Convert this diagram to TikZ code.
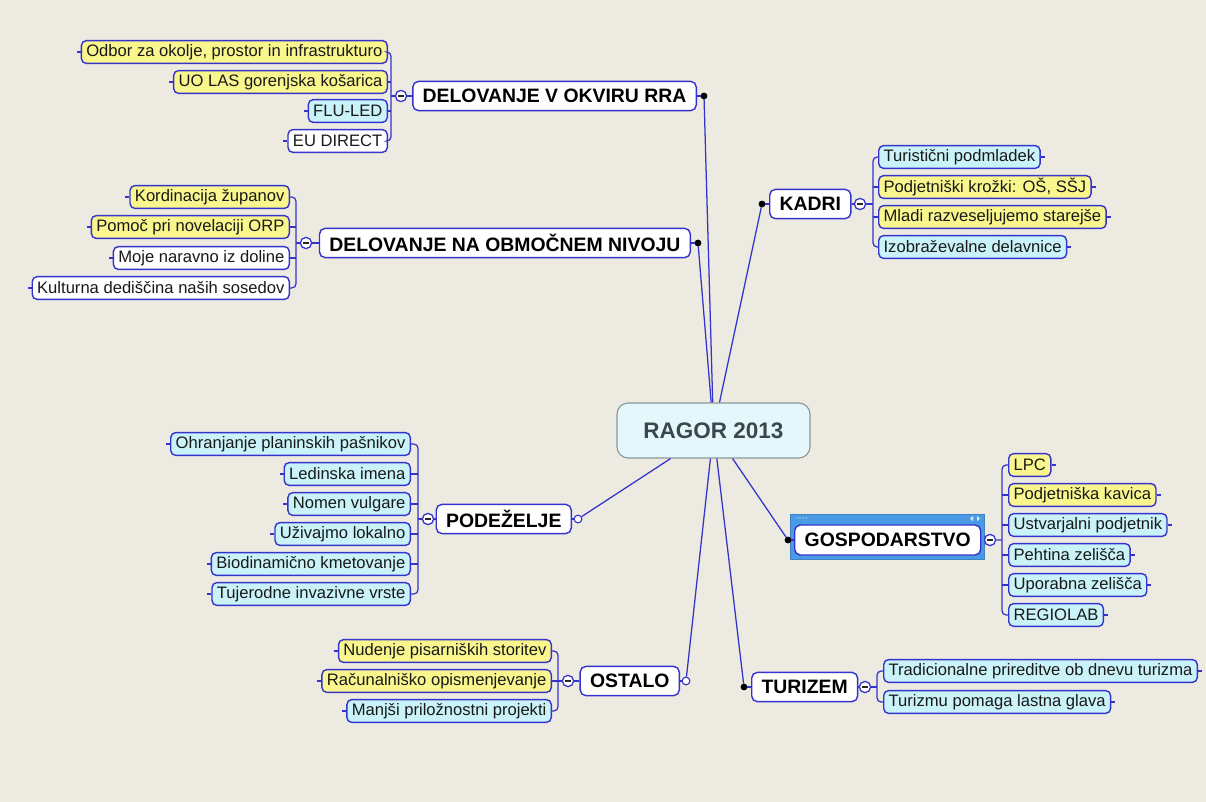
\documentclass[tikz,border=0pt]{standalone}
\usepackage{fontspec}
\setmainfont{Liberation Sans}
\definecolor{bgc}{HTML}{EDEAE2}
\definecolor{lnblue}{HTML}{3434CC}
\definecolor{yel}{HTML}{FAF68E}
\definecolor{cya}{HTML}{C9F3F9}
\definecolor{ragfill}{HTML}{E4F8FB}
\definecolor{raggray}{HTML}{8C9696}
\definecolor{ragtext}{HTML}{3A474C}
\definecolor{selblue}{HTML}{4A9AE6}
\tikzset{
 leaf/.style={draw=lnblue, line width=1pt, rounded corners=3.5pt, minimum height=0.57cm, inner xsep=3.5pt, inner ysep=1pt, font=\fontsize{11.8}{13}\selectfont, text=black!90},
 yl/.style={leaf, fill=yel},
 cy/.style={leaf, fill=cya},
 wh/.style={leaf, fill=white},
 branch/.style={draw=lnblue, line width=1pt, rounded corners=4pt, fill=white, minimum height=0.73cm, inner xsep=7pt, font=\bfseries\fontsize{13.8}{16}\selectfont},
 fdot/.style={circle, fill=black, draw=black, inner sep=0pt, minimum size=4.4pt},
 odot/.style={circle, fill=white, draw=lnblue, line width=0.8pt, inner sep=0pt, minimum size=5.5pt},
 coll/.style={circle, fill=white, draw=lnblue, line width=0.9pt, inner sep=0pt, minimum size=8pt,
   path picture={\draw[black!85, line width=0.9pt] ([xshift=2pt]path picture bounding box.center) -- ([xshift=-2pt]path picture bounding box.center);}},
 conn/.style={draw=lnblue, line width=0.9pt},
}
\begin{document}
\begin{tikzpicture}[x=0.025cm, y=-0.025cm]
\useasboundingbox (0,0) rectangle (1206,802);
\fill[bgc] (0,0) rectangle (1206,802);

% central
\node[draw=raggray, fill=ragfill, line width=0.8pt, rounded corners=8pt, minimum width=4.825cm, minimum height=1.375cm, font=\bfseries\fontsize{16}{19}\selectfont, text=ragtext] (ragor) at (713.5,430.5) {RAGOR 2013};

% ---------- DELOVANJE V OKVIRU RRA
\node[yl, anchor=east] (a1) at (388,52) {Odbor za okolje, prostor in infrastrukturo};
\node[yl, anchor=east] (a2) at (388,82) {UO LAS gorenjska košarica};
\node[cy, anchor=east] (a3) at (388,111) {FLU-LED};
\node[wh, anchor=east] (a4) at (388,141) {EU DIRECT};
\node[coll] (ca) at (401,96) {};
\coordinate (ba) at (391,96);
\node[branch, anchor=east] (rra) at (697,96) {DELOVANJE V OKVIRU RRA};
\node[fdot] (da) at (704,96) {};
\draw[conn, rounded corners=3pt] (a1.east) -| (ba) |- (a4.east);
\draw[conn] (a2.east) -- (a2.east -| ba);
\draw[conn] (a3.east) -- (a3.east -| ba);
\draw[conn] (ba) -- (ca) -- (rra) ;
\draw[conn] (rra.east) -- (da);
\foreach \n in {a1,a2,a3,a4} \draw[conn] (\n.west) -- ++(-4,0);

% ---------- DELOVANJE NA OBMOCNEM NIVOJU
\node[yl, anchor=east] (b1) at (290,197) {Kordinacija županov};
\node[yl, anchor=east] (b2) at (290,227) {Pomoč pri novelaciji ORP};
\node[wh, anchor=east] (b3) at (290,258) {Moje naravno iz doline};
\node[wh, anchor=east] (b4) at (290,288) {Kulturna dediščina naših sosedov};
\node[coll] (cb) at (306,243) {};
\coordinate (bb) at (296,243);
\node[branch, anchor=east] (obm) at (691,243) {DELOVANJE NA OBMOČNEM NIVOJU};
\node[fdot] (db) at (698,243) {};
\draw[conn, rounded corners=3pt] (b1.east) -| (bb) |- (b4.east);
\draw[conn] (b2.east) -- (b2.east -| bb);
\draw[conn] (b3.east) -- (b3.east -| bb);
\draw[conn] (bb) -- (cb) -- (obm);
\draw[conn] (obm.east) -- (db);
\foreach \n in {b1,b2,b3,b4} \draw[conn] (\n.west) -- ++(-4,0);

% ---------- KADRI
\node[branch, anchor=west] (kadri) at (769,204) {KADRI};
\node[fdot] (dk) at (762,204) {};
\node[coll] (ck) at (860,204) {};
\coordinate (bk) at (873,204);
\node[cy, anchor=west] (k1) at (878,157) {Turistični podmladek};
\node[yl, anchor=west] (k2) at (878,187) {Podjetniški krožki: OŠ, SŠJ};
\node[yl, anchor=west] (k3) at (878,217) {Mladi razveseljujemo starejše};
\node[cy, anchor=west] (k4) at (878,247) {Izobraževalne delavnice};
\draw[conn, rounded corners=3pt] (k1.west) -| (bk) |- (k4.west);
\draw[conn] (k2.west) -- (k2.west -| bk);
\draw[conn] (k3.west) -- (k3.west -| bk);
\draw[conn] (kadri) -- (ck) -- (bk);
\draw[conn] (dk) -- (kadri.west);
\foreach \n in {k1,k2,k3,k4} \draw[conn] (\n.east) -- ++(4,0);

% ---------- GOSPODARSTVO
\node[fill=selblue, draw=selblue!85!black, line width=0.4pt, minimum width=4.85cm, minimum height=1.125cm, inner sep=0pt] (gframe) at (887,536.5) {};
\foreach \xx in {797,800,803,806} \fill[white] (\xx,518) circle (0.5pt);
\fill[white!80!selblue] (973,516) -- (973,521) -- (970,518.5) -- cycle;
\fill[white!80!selblue] (977,516) -- (977,521) -- (980,518.5) -- cycle;
\node[branch, anchor=west, minimum width=4.65cm, minimum height=0.75cm] (gosp) at (794,540) {GOSPODARSTVO};
\node[fdot] (dg) at (788,540) {};
\node[coll] (cg) at (990,540) {};
\coordinate (bgo) at (1002,540);
\node[yl, anchor=west] (g1) at (1008,465) {LPC};
\node[yl, anchor=west] (g2) at (1008,495) {Podjetniška kavica};
\node[cy, anchor=west] (g3) at (1008,525) {Ustvarjalni podjetnik};
\node[cy, anchor=west] (g4) at (1008,555) {Pehtina zelišča};
\node[cy, anchor=west] (g5) at (1008,585) {Uporabna zelišča};
\node[cy, anchor=west] (g6) at (1008,615) {REGIOLAB};
\draw[conn, rounded corners=3pt] (g1.west) -| (bgo) |- (g6.west);
\foreach \n in {g2,g3,g4,g5} \draw[conn] (\n.west) -- (\n.west -| bgo);
\draw[conn] (gframe.east) -- (cg) -- (bgo);
\draw[conn] (dg) -- (gosp.west);
\foreach \n in {g1,g2,g3,g4,g5,g6} \draw[conn] (\n.east) -- ++(4,0);

% ---------- PODEZELJE
\node[cy, anchor=east] (p1) at (411,444) {Ohranjanje planinskih pašnikov};
\node[cy, anchor=east] (p2) at (411,474) {Ledinska imena};
\node[cy, anchor=east] (p3) at (411,504) {Nomen vulgare};
\node[cy, anchor=east] (p4) at (411,534) {Uživajmo lokalno};
\node[cy, anchor=east] (p5) at (411,564) {Biodinamično kmetovanje};
\node[cy, anchor=east] (p6) at (411,594) {Tujerodne invazivne vrste};
\node[coll] (cp) at (428,519) {};
\coordinate (bp) at (418,519);
\node[branch, anchor=east] (pod) at (572,519) {PODEŽELJE};
\node[odot] (dp) at (578,519) {};
\draw[conn, rounded corners=3pt] (p1.east) -| (bp) |- (p6.east);
\foreach \n in {p2,p3,p4,p5} \draw[conn] (\n.east) -- (\n.east -| bp);
\draw[conn] (bp) -- (cp) -- (pod);
\draw[conn] (pod.east) -- (dp);
\foreach \n in {p1,p2,p3,p4,p5,p6} \draw[conn] (\n.west) -- ++(-4,0);

% ---------- OSTALO
\node[yl, anchor=east] (s1) at (552,651) {Nudenje pisarniških storitev};
\node[yl, anchor=east] (s2) at (552,681) {Računalniško opismenjevanje};
\node[cy, anchor=east] (s3) at (552,711) {Manjši priložnostni projekti};
\node[coll] (cs) at (568,681) {};
\coordinate (bs) at (558,681);
\node[branch, anchor=east] (ost) at (680,681) {OSTALO};
\node[odot] (ds) at (686,681) {};
\draw[conn, rounded corners=3pt] (s1.east) -| (bs) |- (s3.east);
\draw[conn] (s2.east) -- (bs) -- (cs) -- (ost);
\draw[conn] (ost.east) -- (ds);
\foreach \n in {s1,s2,s3} \draw[conn] (\n.west) -- ++(-4,0);

% ---------- TURIZEM
\node[branch, anchor=west] (tur) at (751,687) {TURIZEM};
\node[fdot] (dt) at (744,687) {};
\node[coll] (ct) at (865,687) {};
\coordinate (bt) at (877,687);
\node[cy, anchor=west] (t1) at (883,671) {Tradicionalne prireditve ob dnevu turizma};
\node[cy, anchor=west] (t2) at (883,702) {Turizmu pomaga lastna glava};
\draw[conn, rounded corners=3pt] (t1.west) -| (bt) |- (t2.west);
\draw[conn] (tur) -- (ct) -- (bt);
\draw[conn] (dt) -- (tur.west);
\foreach \n in {t1,t2} \draw[conn] (\n.east) -- ++(4,0);

% ---------- main connectors
\draw[conn] (ragor) -- (da);
\draw[conn] (ragor) -- (db);
\draw[conn] (ragor) -- (dk);
\draw[conn] (ragor) -- (dg);
\draw[conn] (ragor) -- (dp);
\draw[conn] (ragor) -- (ds);
\draw[conn] (ragor) -- (dt);
\end{tikzpicture}
\end{document}
